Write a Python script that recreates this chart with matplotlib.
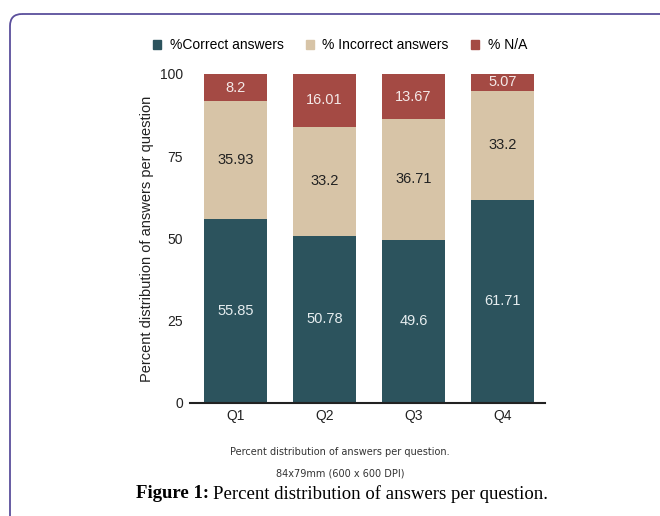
import matplotlib
matplotlib.use("Agg")
import matplotlib.pyplot as plt
from matplotlib.patches import FancyBboxPatch, Patch
import numpy as np

questions = ["Q1", "Q2", "Q3", "Q4"]
correct = [55.85, 50.78, 49.6, 61.71]
incorrect = [35.93, 33.2, 36.71, 33.2]
not_answered = [8.2, 16.01, 13.67, 5.07]
series_names = ["%Correct answers", "% Incorrect answers", "% N/A"]
y_ticks = [0, 25, 50, 75, 100]

c_correct = "#2c535d"
c_incorrect = "#d7c4a7"
c_na = "#a44a44"

plt.rcParams["font.family"] = ["Liberation Sans", "DejaVu Sans"]

fig = plt.figure(figsize=(6.6, 5.16), dpi=100)
fig.patch.set_facecolor("white")

# page frame with rounded top-left corner
bg = fig.add_axes([0, 0, 1, 1], zorder=-5)
bg.set_xlim(0, 660)
bg.set_ylim(516, 0)
bg.axis("off")
bg.add_patch(FancyBboxPatch((10, 14), 700, 600,
                            boxstyle="round,pad=0,rounding_size=12",
                            fill=False, edgecolor="#5b4f9c", linewidth=1.3))

ax = fig.add_axes([0.2879, 0.219, 0.538, 0.6376])
x = np.arange(len(questions))
w = 0.71
bottom2 = np.array(correct)
bottom3 = bottom2 + np.array(incorrect)
ax.bar(x, correct, w, color=c_correct, label=series_names[0])
ax.bar(x, incorrect, w, bottom=bottom2, color=c_incorrect, label=series_names[1])
ax.bar(x, not_answered, w, bottom=bottom3, color=c_na, label=series_names[2])

for i in range(len(questions)):
    ax.text(x[i], correct[i] / 2, f"{correct[i]:g}", ha="center", va="center",
            color="#e6edef", fontsize=10.5)
    ax.text(x[i], bottom2[i] + incorrect[i] / 2, f"{incorrect[i]:g}", ha="center",
            va="center", color="#222222", fontsize=10.5)
    ax.text(x[i], bottom3[i] + not_answered[i] / 2, f"{not_answered[i]:g}",
            ha="center", va="center", color="#f4e9e8", fontsize=10.5)

ax.set_xlim(-0.51, 3.48)
ax.set_ylim(0, 100)
ax.set_yticks(y_ticks)
ax.set_xticks(x)
ax.set_xticklabels(questions)
ax.tick_params(axis="both", length=0, labelsize=10, colors="#222222")
ax.tick_params(axis="y", pad=5)
ax.tick_params(axis="x", pad=4)
for s in ["top", "right", "left"]:
    ax.spines[s].set_visible(False)
ax.spines["bottom"].set_color("#222222")
ax.spines["bottom"].set_linewidth(1.5)
ax.set_ylabel("Percent distribution of answers per question", fontsize=10.5,
              color="#222222", labelpad=4)

handles = [Patch(color=c) for c in (c_correct, c_incorrect, c_na)]
fig.legend(handles, series_names, loc="center", bbox_to_anchor=(340 / 660, 1 - 45 / 516),
           ncol=3, frameon=False, fontsize=10, handlelength=0.6, handleheight=0.6,
           handletextpad=0.6, columnspacing=1.6)

fig.text(340 / 660, 1 - 452 / 516, "Percent distribution of answers per question.",
         ha="center", va="center", fontsize=7, family="DejaVu Sans", color="#333333")
fig.text(340 / 660, 1 - 474 / 516, "84x79mm (600 x 600 DPI)",
         ha="center", va="center", fontsize=7, family="DejaVu Sans", color="#333333")

cap_y = 1 - 494 / 516
t1 = fig.text(136 / 660, cap_y, "Figure 1:", ha="left", va="center", fontsize=13.5,
              family="Liberation Serif", weight="bold", color="black")
fig.canvas.draw()
bb = t1.get_window_extent()
fig.text((bb.x1 + 4) / 660, cap_y, "Percent distribution of answers per question.",
         ha="left", va="center", fontsize=13.5, family="Liberation Serif", color="black")

fig.savefig("out.png", dpi=100)
